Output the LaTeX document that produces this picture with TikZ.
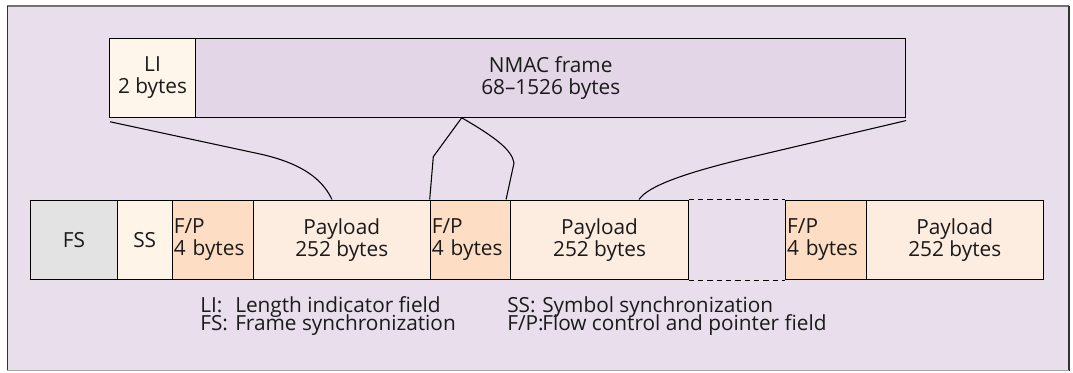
\documentclass[tikz,border=0pt]{standalone}
\usepackage{fontspec}
\setmainfont{Open Sans}
\definecolor{bgl}{HTML}{E8DEEC}
\definecolor{nmacc}{HTML}{E2D6E7}
\definecolor{lic}{HTML}{FEF6EA}
\definecolor{fsc}{HTML}{E3E3E3}
\definecolor{ssc}{HTML}{FEF4E8}
\definecolor{fpc}{HTML}{FDDEC4}
\definecolor{plc}{HTML}{FDECE0}
\definecolor{txt}{HTML}{1A1A1A}
\newcommand\tightlines{\lineskiplimit=-20pt\relax\lineskip=0pt\relax}
\begin{document}
\begin{tikzpicture}[x=0.75pt,y=-0.75pt,
  every node/.style={font=\fontsize{15.6pt}{16.5pt}\selectfont, text=txt},
  box/.style={draw=black, line width=0.8pt, inner sep=0pt, anchor=north west, align=center},
  fpbox/.style={box, fill=fpc, align=left, inner xsep=1.2pt, text width=#1},
  conn/.style={draw=black, line width=0.8pt},
  gapline/.style={draw=black, line width=0.8pt, dash pattern=on 4pt off 3pt},
  legend/.style={anchor=north west, inner sep=0pt, align=left, font=\fontsize{15.6pt}{14pt}\selectfont\tightlines}]
\useasboundingbox (0,0) rectangle (1073,372);
% outer frame
\fill[bgl] (7.3,5.7) rectangle (1069,370.5);
\draw[line width=1.2pt, draw=black!55] (7.3,5.7) -- (1069,5.7);
\draw[line width=0.8pt, draw=black!80] (7.3,5.7) -- (7.3,370.5);
\draw[line width=0.8pt, draw=black!80] (1069,5.7) -- (1069,370.5);
\draw[line width=0.8pt, draw=black!35] (7.3,370.5) -- (1069,370.5);
% top frame
\node[box, fill=lic, minimum width=64.95pt, minimum height=59.25pt] (li) at (108.7,37.7) {LI\\2 bytes};
\node[box, fill=nmacc, minimum width=532.3pt, minimum height=59.25pt] (nmac) at (195.3,37.7) {NMAC frame\\68–1526 bytes};
% bottom row
\node[box, fill=fsc, minimum width=65pt, minimum height=59.6pt] (fs) at (30,199.5) {FS};
\node[box, fill=ssc, minimum width=41.25pt, minimum height=59.6pt] (ss) at (116.7,199.5) {SS};
\node[fpbox=58.35pt, minimum height=59.6pt] (fp1) at (171.7,199.5) {F/P\\4 bytes};
\node[box, fill=plc, minimum width=132.75pt, minimum height=59.6pt] (pl1) at (252.7,199.5) {Payload\\252 bytes};
\node[fpbox=58.05pt, minimum height=59.6pt] (fp2) at (429.7,199.5) {F/P\\4 bytes};
\node[box, fill=plc, minimum width=133.05pt, minimum height=59.6pt] (pl2) at (510.3,199.5) {Payload\\252 bytes};
\node[fpbox=58.1pt, minimum height=59.6pt] (fp3) at (785,199.5) {F/P\\4 bytes};
\node[box, fill=plc, minimum width=132.75pt, minimum height=59.6pt] (pl3) at (865.7,199.5) {Payload\\252 bytes};
% dashed gap
\draw[gapline] (pl2.north east) -- (fp3.north west);
\draw[gapline] (pl2.south east) -- (fp3.south west);
% connectors
\coordinate (apex) at ([shift={(266.4,0)}]nmac.south west);
\draw[conn] ([shift={(1.3,4)}]li.south west) -- (260,154) .. controls (310,165) and (325,185) .. ([shift={(79.3,0)}]pl1.north west);
\draw[conn] ([shift={(0,2.8)}]nmac.south east) -- (745,158.5) .. controls (685,173) and (648,186) .. ([shift={(128.7,0)}]pl2.north west);
\draw[conn] (fp2.north west) -- (433.3,156.7) -- (apex);
\draw[conn] (apex) .. controls (495,137) and (512,150) .. (514,163) -- ([shift={(-5.3,0)}]fp2.north east);
% legend
\node[legend] (leg1) at (200,296) {\makebox[26.25pt][l]{LI:}Length indicator field\\\makebox[26.25pt][l]{FS:}Frame synchronization};
\node[legend] (leg2) at (507,296) {\makebox[26.25pt][l]{SS:}Symbol synchronization\\\makebox[26.25pt][l]{F/P:}Flow control and pointer field};
\end{tikzpicture}
\end{document}
